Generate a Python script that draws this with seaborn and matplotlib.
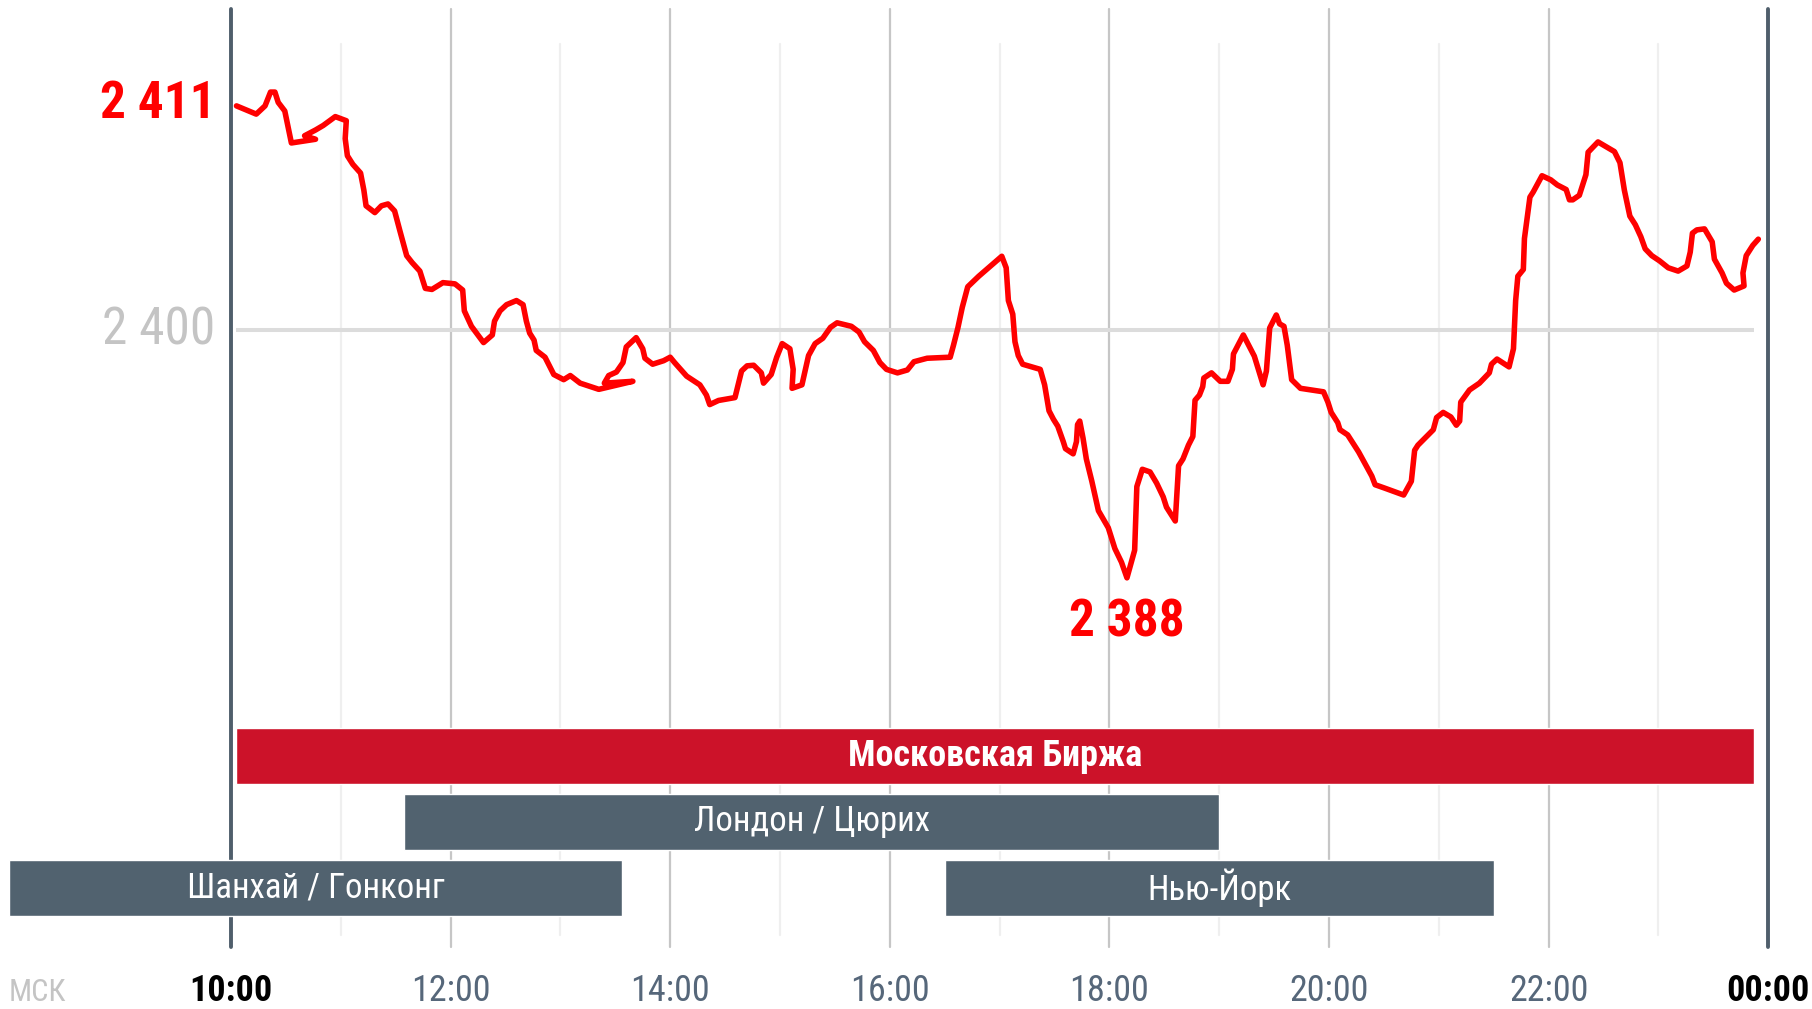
import numpy as np
import pandas as pd
import matplotlib
matplotlib.use("Agg")
from matplotlib import pyplot as plt
from matplotlib import font_manager as fm
import seaborn as sns

sns.set_style("white")
# narrow sans like the original, first one that is installed
installed = {f.name for f in fm.fontManager.ttflist}
narrow = [n for n in ["Liberation Sans Narrow", "Arial Narrow", "Roboto Condensed",
                      "PT Sans Narrow", "Fira Sans Condensed", "Sofia Sans Condensed"]
          if n in installed]
plt.rcParams['font.family'] = narrow[:1] + ['DejaVu Sans']

# price trace, time in hours (MSK)
hours = [10.05, 10.23, 10.31, 10.36, 10.40, 10.43, 10.49, 10.55, 10.77, 10.67, 10.77, 10.84,
         10.95, 11.05, 11.04, 11.06, 11.11, 11.18, 11.21, 11.23, 11.31, 11.37, 11.43, 11.49,
         11.54, 11.60, 11.65, 11.72, 11.77, 11.83, 11.93, 12.04, 12.11, 12.125, 12.19, 12.30,
         12.38, 12.40, 12.45, 12.51, 12.60, 12.66, 12.69, 12.72, 12.76, 12.78, 12.86, 12.94,
         13.03, 13.09, 13.18, 13.35, 13.66, 13.40, 13.44, 13.51, 13.57, 13.60, 13.69, 13.75,
         13.77, 13.84, 13.94, 14.00, 14.04, 14.15, 14.27, 14.33, 14.36, 14.44, 14.59, 14.65,
         14.70, 14.76, 14.83, 14.85, 14.92, 14.97, 15.02, 15.09, 15.12, 15.11, 15.20, 15.26,
         15.32, 15.39, 15.46, 15.52, 15.65, 15.72, 15.77, 15.85, 15.91, 15.97, 16.07, 16.16,
         16.22, 16.34, 16.55, 16.58, 16.62, 16.66, 16.71, 16.81, 17.02, 17.06, 17.08, 17.12,
         17.14, 17.17, 17.21, 17.37, 17.41, 17.45, 17.49, 17.53, 17.58, 17.60, 17.67, 17.70,
         17.71, 17.73, 17.76, 17.79, 17.84, 17.90, 17.99, 18.05, 18.11, 18.16, 18.23, 18.25,
         18.30, 18.37, 18.43, 18.49, 18.52, 18.60, 18.63, 18.67, 18.72, 18.76, 18.78, 18.82,
         18.85, 18.86, 18.93, 19.01, 19.08, 19.12, 19.13, 19.22, 19.32, 19.40, 19.43, 19.46,
         19.52, 19.55, 19.59, 19.62, 19.66, 19.74, 19.95, 19.99, 20.02, 20.08, 20.10, 20.17,
         20.27, 20.39, 20.42, 20.51, 20.68, 20.75, 20.78, 20.81, 20.95, 20.98, 21.04, 21.11,
         21.16, 21.19, 21.20, 21.28, 21.37, 21.46, 21.48, 21.53, 21.64, 21.68, 21.70, 21.72,
         21.77, 21.78, 21.83, 21.86, 21.94, 22.02, 22.08, 22.16, 22.19, 22.22, 22.28, 22.34,
         22.36, 22.45, 22.60, 22.65, 22.69, 22.74, 22.79, 22.84, 22.88, 22.94, 23.01, 23.09,
         23.18, 23.26, 23.29, 23.31, 23.35, 23.42, 23.49, 23.51, 23.58, 23.62, 23.69, 23.78,
         23.77, 23.80, 23.86, 23.91]
price = [2410.90, 2410.50, 2410.90, 2411.57, 2411.57, 2411.07, 2410.65, 2409.10, 2409.28, 2409.45,
         2409.73, 2409.95, 2410.38, 2410.18, 2409.31, 2408.48, 2408.06, 2407.64, 2406.81, 2406.05,
         2405.72, 2406.05, 2406.14, 2405.80, 2404.80, 2403.63, 2403.29, 2402.88, 2402.04, 2401.99,
         2402.32, 2402.26, 2401.96, 2400.95, 2400.20, 2399.41, 2399.78, 2400.45, 2400.95, 2401.25,
         2401.45, 2401.25, 2400.45, 2399.87, 2399.53, 2399.03, 2398.70, 2397.86, 2397.61, 2397.81,
         2397.44, 2397.14, 2397.53, 2397.44, 2397.81, 2397.98, 2398.44, 2399.20, 2399.65, 2399.11,
         2398.65, 2398.36, 2398.53, 2398.70, 2398.44, 2397.78, 2397.36, 2396.86, 2396.40, 2396.60,
         2396.74, 2398.03, 2398.28, 2398.31, 2397.94, 2397.44, 2397.86, 2398.70, 2399.36, 2399.11,
         2398.11, 2397.19, 2397.36, 2398.78, 2399.36, 2399.62, 2400.15, 2400.37, 2400.20, 2399.92,
         2399.45, 2399.03, 2398.44, 2398.11, 2397.94, 2398.08, 2398.48, 2398.65, 2398.70, 2399.28,
         2400.12, 2401.12, 2402.12, 2402.63, 2403.60, 2403.04, 2401.45, 2400.79, 2399.45, 2398.78,
         2398.36, 2398.11, 2397.36, 2396.10, 2395.69, 2395.35, 2394.60, 2394.26, 2394.01, 2394.60,
         2395.43, 2395.60, 2394.77, 2393.76, 2392.68, 2391.25, 2390.42, 2389.41, 2388.75, 2387.99,
         2389.33, 2392.42, 2393.26, 2393.13, 2392.59, 2391.92, 2391.42, 2390.75, 2393.43, 2393.76,
         2394.43, 2394.85, 2396.61, 2396.86, 2397.27, 2397.69, 2397.94, 2397.53, 2397.53, 2398.11,
         2398.86, 2399.78, 2398.75, 2397.36, 2398.03, 2400.12, 2400.75, 2400.32, 2400.20, 2399.28,
         2397.61, 2397.19, 2397.02, 2396.52, 2396.02, 2395.52, 2395.18, 2394.93, 2394.10, 2392.93,
         2392.51, 2392.34, 2392.01, 2392.68, 2394.18, 2394.43, 2395.18, 2395.77, 2396.02, 2395.80,
         2395.40, 2395.60, 2396.52, 2397.11, 2397.44, 2397.94, 2398.36, 2398.61, 2398.23, 2399.11,
         2401.45, 2402.63, 2402.96, 2404.46, 2406.47, 2406.72, 2407.51, 2407.31, 2407.06, 2406.84,
         2406.34, 2406.34, 2406.56, 2407.56, 2408.65, 2409.15, 2408.68, 2408.14, 2406.81, 2405.55,
         2405.13, 2404.55, 2403.96, 2403.63, 2403.38, 2403.04, 2402.88, 2403.13, 2403.80, 2404.72,
         2404.88, 2404.93, 2404.30, 2403.46, 2402.79, 2402.29, 2401.96, 2402.16, 2402.79, 2403.63,
         2404.13, 2404.43]

# trading sessions
sessions = ["Московская Биржа", "Лондон / Цюрих", "Шанхай / Гонконг", "Нью-Йорк"]
session_row = [0, 1, 2, 2]
session_start = [10.05, 11.58, 7.98, 16.50]
session_end = [23.87, 19.00, 13.56, 21.50]

tick_hours = [10, 12, 14, 16, 18, 20, 22, 24]
tick_labels = ["10:00", "12:00", "14:00", "16:00", "18:00", "20:00", "22:00", "00:00"]
minor_hours = [11, 13, 15, 17, 19, 21, 23]

level_open = 2411
level_mid = 2400
level_low = 2388

df = pd.DataFrame({"hour": hours, "price": price})

fig = plt.figure(figsize=(18.12, 10.09), dpi=100)
ax = fig.add_axes([0, 0, 1, 1])
ax.set_xlim(7.8962, 24.399)
ax.set_ylim(2367.06, 2416.04)
ax.axis("off")

# grid
for h in minor_hours:
    ax.axvline(h, ymin=0.0733, ymax=0.956, color="#efefef", lw=1.6, zorder=1)
for h in tick_hours[1:-1]:
    ax.axvline(h, ymin=0.0614, ymax=0.991, color="#c6c6c6", lw=1.6, zorder=1)
for h in [tick_hours[0], tick_hours[-1]]:
    ax.axvline(h, ymin=0.0614, ymax=0.991, color="#4f5e6b", lw=2.8, zorder=1)
ax.hlines(level_mid, session_start[0], session_end[0], color="#dcdcdc", lw=2.9, zorder=1)

sns.lineplot(data=df, x="hour", y="price", sort=False, estimator=None,
             color="#ff0000", lw=4.0, ax=ax, zorder=3)

# level labels
ax.text(9.86, level_open, "2 411", ha="right", va="center", color="#ff0000",
        fontsize=37, fontweight="bold")
ax.text(9.86, level_mid, "2 400", ha="right", va="center", color="#c4c4c4", fontsize=37)
i_low = int(np.argmin(price))
ax.text(hours[i_low], price[i_low] - 2.15, "2 388", ha="center", va="center",
        color="#ff0000", fontsize=37, fontweight="bold")

# time labels
tr = ax.get_xaxis_transform()
for h, lab in zip(tick_hours, tick_labels):
    edge = h in (tick_hours[0], tick_hours[-1])
    ax.text(h, 0.018, lab, transform=tr, ha="center", va="center", fontsize=26,
            color="black" if edge else "#56677a", fontweight="bold" if edge else "normal")
ax.text(0.005, 0.016, "МСК", transform=ax.transAxes, ha="left", va="center",
        fontsize=22, color="#c4c4c4")

# sessions
bax = fig.add_axes([0, 1 - 921 / 1009, 1, 198 / 1009], sharex=ax)
bax.set_ylim(2.5, -0.5)
bax.axis("off")
bar_colors = ["#cc1229", "#51626f", "#51626f", "#51626f"]
for name, r, s, e, c in zip(sessions, session_row, session_start, session_end, bar_colors):
    bax.barh(r, e - s, left=s, height=0.835, color=c, zorder=2)
    bax.text((s + e) / 2, r, name, ha="center", va="center", color="white",
             fontsize=26 if r == 0 else 25, fontweight="bold" if r == 0 else "normal",
             zorder=3)

plt.savefig("out.png", dpi=100)
